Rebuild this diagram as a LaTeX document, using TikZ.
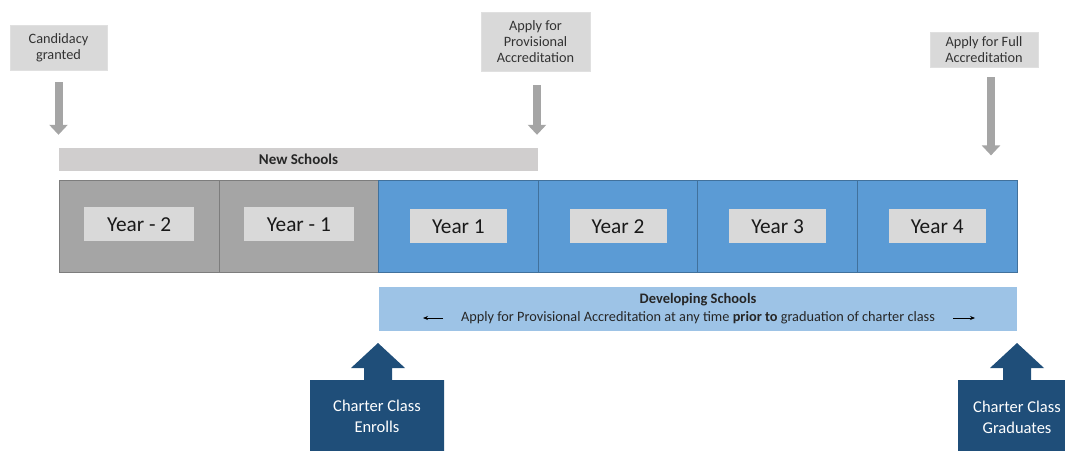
\documentclass[tikz,border=0pt]{standalone}
\usepackage{fontspec}
\setmainfont{Carlito}
\usepackage{xcolor}
\usetikzlibrary{arrows.meta,positioning}
\definecolor{yeargray}{RGB}{165,165,165}
\definecolor{yeargrayline}{RGB}{125,125,125}
\definecolor{yearblue}{RGB}{91,155,213}
\definecolor{yearblueline}{RGB}{65,113,156}
\definecolor{labelgray}{RGB}{217,217,217}
\definecolor{bargray}{RGB}{208,206,206}
\definecolor{barblue}{RGB}{157,195,230}
\definecolor{navy}{RGB}{31,78,121}

\begin{document}
\begin{tikzpicture}[x=1pt,y=-1pt,
    callout/.style={fill=labelgray, draw=black!12, align=center, inner sep=2pt,
      text=black!80, font=\fontsize{14.3}{15.8}\selectfont},
    grayarrow/.style={draw=yeargray, line width=8pt, -{Triangle[width=18pt,length=10pt]}},
    yearbox/.style={minimum width=159.6pt, minimum height=92pt, inner sep=0pt, outer sep=0pt, line width=0.8pt},
    yeargraybox/.style={yearbox, fill=yeargray, draw=yeargrayline},
    yearbluebox/.style={yearbox, fill=yearblue, draw=yearblueline},
    yearlabel/.style={fill=labelgray, minimum height=34pt, inner sep=0pt,
      text=black!90, font=\fontsize{21.3}{24}\selectfont},
    smallarrow/.style={black, line width=0.7pt, -{Stealth[length=5pt,width=4pt]}}]
  \useasboundingbox (0,0) rectangle (1065,450);

  % Milestone callouts
  \node[callout, minimum width=97pt, minimum height=45pt] (cand) at (58.5,47.5) {Candidacy\\granted};
  \node[callout, minimum width=109pt, minimum height=59pt] (prov) at (535.5,41.5) {Apply for\\Provisional\\Accreditation};
  \node[callout, minimum width=108pt, minimum height=35pt] (full) at (984,49.5) {Apply for Full\\Accreditation};

  % Year boxes
  \node[yeargraybox, anchor=north west] (ym2) at (59.4,180.4) {};
  \node[yeargraybox, right=0pt of ym2] (ym1) {};
  \node[yearbluebox, right=0pt of ym1] (y1) {};
  \node[yearbluebox, right=0pt of y1] (y2) {};
  \node[yearbluebox, right=0pt of y2] (y3) {};
  \node[yearbluebox, right=0pt of y3] (y4) {};

  \node[yearlabel, minimum width=110pt, yshift=2pt] (lm2) at (ym2.center) {Year - 2};
  \node[yearlabel, minimum width=110pt, yshift=2pt] (lm1) at (ym1.center) {Year - 1};
  \node[yearlabel, minimum width=97pt] (l1) at (y1.center) {Year 1};
  \node[yearlabel, minimum width=97pt] (l2) at (y2.center) {Year 2};
  \node[yearlabel, minimum width=97pt] (l3) at (y3.center) {Year 3};
  \node[yearlabel, minimum width=97pt] (l4) at (y4.center) {Year 4};

  % Phase bars
  \node[fill=bargray, minimum width=479pt, minimum height=23pt, inner sep=0pt,
    font=\fontsize{15}{17}\selectfont\bfseries, text=black!85] (newbar) at (298.5,159.5) {New Schools};
  \node[fill=barblue, minimum width=638pt, minimum height=44pt, inner sep=0pt] (devbar) at (698,309) {};
  \node[font=\fontsize{14.5}{16}\selectfont\bfseries, text=black!85] (devtitle) at (698,300) {Developing Schools};
  \node[font=\fontsize{14.3}{16}\selectfont, text=black!85] (devtxt) at (698,318)
    {Apply for Provisional Accreditation at any time \textbf{prior to} graduation of charter class};
  \coordinate (la) at (443,318);
  \coordinate (lb) at (423,318);
  \coordinate (ra) at (953,318);
  \coordinate (rb) at (975,318);
  \draw[smallarrow] (la) -- (lb);
  \draw[smallarrow] (ra) -- (rb);

  % Gray milestone arrows
  \draw[grayarrow] ([yshift=-12pt]cand.south) -- ([yshift=13pt]cand.south |- newbar.north);
  \draw[grayarrow] ([xshift=1.5pt,yshift=-14pt]prov.south) -- ([xshift=1.5pt,yshift=13pt]prov.south |- newbar.north);
  \draw[grayarrow] ([xshift=7pt,yshift=-10pt]full.south) -- ([xshift=7pt,yshift=25pt]full.south |- y4.north);

  % Charter class arrows
  \fill[navy] (310,451) -- (310,380) -- (364,380) -- (364,368) -- (351,368) -- (378,343)
    -- (405,368) -- (392,368) -- (392,380) -- (444,380) -- (444,451) -- cycle;
  \fill[navy] (958,451) -- (958,380) -- (1003,380) -- (1003,368) -- (990,368) -- (1017,343)
    -- (1044,368) -- (1031,368) -- (1031,380) -- (1066,380) -- (1066,451) -- cycle;
  \node[align=center, text=white, font=\fontsize{16.5}{21}\selectfont] (enroll) at (377,416.5) {Charter Class\\Enrolls};
  \node[align=center, text=white, font=\fontsize{16.5}{21}\selectfont] (grad) at (1017,417.5) {Charter Class\\Graduates};
\end{tikzpicture}
\end{document}
